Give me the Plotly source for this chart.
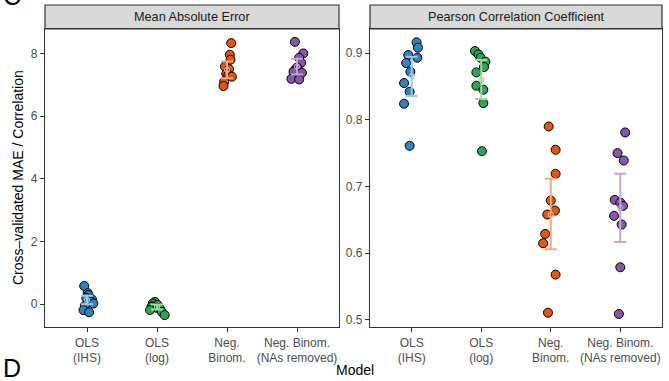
import plotly.graph_objects as go

W, H = 669, 381

models = ["OLS (IHS)", "OLS (log)", "Neg. Binom.", "Neg. Binom. (NAs removed)"]
tick_labels = ["OLS<br>(IHS)", "OLS<br>(log)", "Neg.<br>Binom.", "Neg. Binom.<br>(NAs removed)"]
panels = ["Mean Absolute Error", "Pearson Correlation Coefficient"]

point_colors = ["#3182BD", "#31A354", "#E6550D", "#8856A7"]
bar_colors = ["#9ECAE1", "#A1D99B", "#FBA582", "#C2A6DA"]

# MAE values per model (10 CV folds)
mae_ols_ihs = [0.58, 0.35, 0.29, 0.20, 0.15, 0.08, 0.02, -0.05, -0.19, -0.26]
mae_ols_log = [0.07, 0.02, -0.03, -0.07, -0.09, -0.12, -0.14, -0.19, -0.25, -0.35]
mae_nb = [8.33, 7.96, 7.80, 7.58, 7.50, 7.35, 7.32, 7.26, 7.10, 6.96]
mae_nb_na = [8.37, 8.00, 7.86, 7.70, 7.55, 7.45, 7.41, 7.38, 7.19, 7.17]
# jitter offsets (category units)
mae_jit_ols_ihs = [-0.04, 0.01, 0.02, -0.01, 0.07, 0.06, 0.09, -0.03, -0.05, 0.03]
mae_jit_ols_log = [-0.03, -0.06, 0.01, -0.07, -0.08, 0.0, 0.04, -0.10, 0.07, 0.11]
mae_jit_nb = [0.06, 0.04, 0.05, -0.03, 0.03, -0.01, 0.02, 0.07, -0.04, -0.05]
mae_jit_nb_na = [-0.03, 0.09, 0.03, 0.06, 0.0, -0.04, -0.05, 0.07, -0.08, 0.03]
# summary (mean, lower, upper)
mae_mean = [0.13, -0.09, 7.48, 7.58]
mae_lo = [0.00, -0.17, 7.21, 7.33]
mae_hi = [0.27, -0.01, 7.74, 7.83]

# Correlation values
cor_ols_ihs = [0.916, 0.908, 0.897, 0.893, 0.885, 0.872, 0.855, 0.842, 0.824, 0.761]
cor_ols_log = [0.903, 0.898, 0.893, 0.887, 0.879, 0.871, 0.851, 0.845, 0.825, 0.753]
cor_nb = [0.790, 0.755, 0.719, 0.679, 0.664, 0.658, 0.629, 0.615, 0.568, 0.511]
cor_nb_na = [0.781, 0.750, 0.739, 0.680, 0.676, 0.671, 0.656, 0.643, 0.579, 0.509]
cor_jit_ols_ihs = [0.07, 0.09, -0.05, 0.08, -0.08, -0.02, -0.11, -0.03, -0.11, -0.03]
cor_jit_ols_log = [-0.09, -0.04, -0.01, 0.06, 0.04, -0.07, -0.07, 0.03, 0.03, 0.01]
cor_jit_nb = [-0.03, 0.07, 0.07, 0.0, 0.06, -0.05, -0.08, -0.11, 0.07, -0.04]
cor_jit_nb_na = [0.07, -0.04, 0.05, -0.08, 0.0, 0.04, -0.09, 0.02, 0.0, -0.02]
cor_mean = [0.865, 0.860, 0.658, 0.668]
cor_lo = [0.8355, 0.831, 0.606, 0.617]
cor_hi = [0.8945, 0.8895, 0.7115, 0.719]

mae_vals = [mae_ols_ihs, mae_ols_log, mae_nb, mae_nb_na]
mae_jits = [mae_jit_ols_ihs, mae_jit_ols_log, mae_jit_nb, mae_jit_nb_na]
cor_vals = [cor_ols_ihs, cor_ols_log, cor_nb, cor_nb_na]
cor_jits = [cor_jit_ols_ihs, cor_jit_ols_log, cor_jit_nb, cor_jit_nb_na]

fig = go.Figure()

def add_panel(vals, jits, means, los, his, xa, ya):
    for i in range(4):
        fig.add_trace(go.Scatter(
            x=[i + 1 + j for j in jits[i]], y=vals[i], mode="markers",
            marker=dict(size=9, color=point_colors[i], line=dict(color="black", width=1)),
            xaxis=xa, yaxis=ya, showlegend=False, hoverinfo="y"))
    for i in range(4):
        fig.add_trace(go.Scatter(
            x=[i + 1], y=[means[i]], mode="markers",
            marker=dict(size=5, color="rgba(0,0,0,0)", line=dict(color=bar_colors[i], width=1.2)),
            error_y=dict(type="data", symmetric=False,
                         array=[his[i] - means[i]], arrayminus=[means[i] - los[i]],
                         color=bar_colors[i], thickness=2, width=6),
            xaxis=xa, yaxis=ya, showlegend=False, hoverinfo="skip"))

add_panel(mae_vals, mae_jits, mae_mean, mae_lo, mae_hi, "x", "y")
add_panel(cor_vals, cor_jits, cor_mean, cor_lo, cor_hi, "x2", "y2")

x1 = [45 / W, 339 / W]
x2 = [370 / W, 662 / W]
ydom = [(H - 327) / H, (H - 29) / H]
strip_top = (H - 5) / H

axis_common = dict(showline=True, mirror=True, linecolor="#333333", linewidth=1.2,
                   ticks="outside", ticklen=4, tickcolor="#333333", showgrid=False,
                   zeroline=False, tickfont=dict(size=12, color="#4D4D4D"))

fig.update_layout(
    width=W, height=H, margin=dict(l=0, r=0, t=0, b=0),
    plot_bgcolor="white", paper_bgcolor="white",
    font=dict(family="Liberation Sans, Arial, sans-serif"),
    xaxis=dict(domain=x1, anchor="y", range=[0.4, 4.6], tickvals=[1, 2, 3, 4],
               ticktext=tick_labels, **axis_common),
    yaxis=dict(domain=ydom, anchor="x", range=[-0.73, 8.78], tickvals=[0, 2, 4, 6, 8], **axis_common),
    xaxis2=dict(domain=x2, anchor="y2", range=[0.4, 4.6], tickvals=[1, 2, 3, 4],
                ticktext=tick_labels, **axis_common),
    yaxis2=dict(domain=ydom, anchor="x2", range=[0.4895, 0.936],
                tickvals=[0.5, 0.6, 0.7, 0.8, 0.9], ticktext=["0.5", "0.6", "0.7", "0.8", "0.9"],
                **axis_common),
)

for (xd, title) in [(x1, panels[0]), (x2, panels[1])]:
    fig.add_shape(type="rect", xref="paper", yref="paper", x0=xd[0], x1=xd[1],
                  y0=ydom[1], y1=strip_top, fillcolor="#D9D9D9",
                  line=dict(color="#333333", width=1.2), layer="below")
    fig.add_annotation(text=title, xref="paper", yref="paper", x=(xd[0] + xd[1]) / 2,
                       y=(ydom[1] + strip_top) / 2, showarrow=False,
                       font=dict(size=12.7, color="#1A1A1A"), xanchor="center", yanchor="middle")

fig.add_annotation(text="Cross\u2013validated MAE / Correlation", xref="paper", yref="paper",
                   x=18 / W, y=(ydom[0] + ydom[1]) / 2, textangle=-90, showarrow=False,
                   font=dict(size=14, color="black"), xanchor="center", yanchor="middle")
fig.add_annotation(text="Model", xref="paper", yref="paper", x=355 / W, y=(H - 370) / H,
                   showarrow=False, font=dict(size=14, color="black"),
                   xanchor="center", yanchor="middle")
fig.add_annotation(text="D", xref="paper", yref="paper", x=1 / W, y=-3 / H,
                   showarrow=False, font=dict(size=25, color="black"),
                   xanchor="left", yanchor="bottom")
fig.add_annotation(text="C", xref="paper", yref="paper", x=1 / W, y=(H - 12) / H,
                   showarrow=False, font=dict(size=25, color="black"),
                   xanchor="left", yanchor="bottom")

fig.write_html("out.html")
